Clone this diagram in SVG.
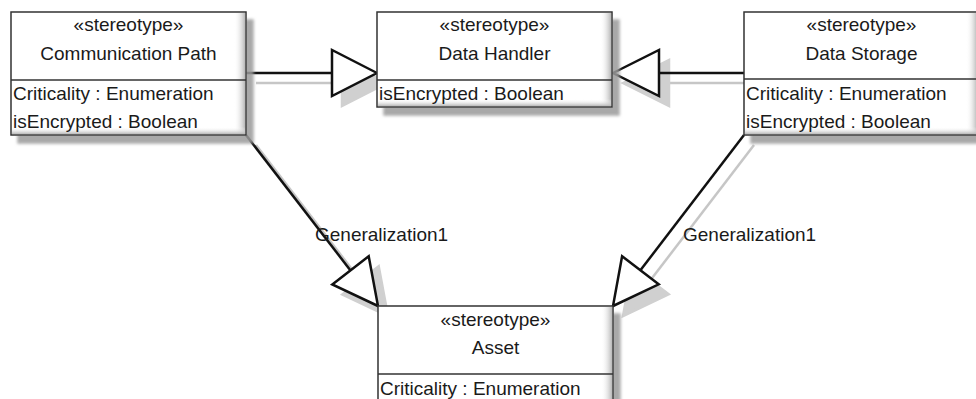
<svg xmlns="http://www.w3.org/2000/svg" width="976" height="399" viewBox="0 0 976 399">
<defs>
<style>
text{font-family:"Liberation Sans",Arial,sans-serif;font-size:19px;fill:#1a1a1a}
.c{text-anchor:middle}
.box{fill:#fff;stroke:#333;stroke-width:1.5}
.div{stroke:#333;stroke-width:1.5}
.edge{fill:none;stroke:#111;stroke-width:2.5}
.head{fill:#fff;stroke:#111;stroke-width:2.5;stroke-linejoin:miter}
.sedge{fill:none;stroke:#c6c6c6;stroke-width:2.5}
.shead{fill:#d0d0d0;stroke:#d0d0d0;stroke-width:2.5}
.bvr{fill:url(#gr)}
.bvb{fill:url(#gb)}
</style>
<linearGradient id="gr" x1="0" y1="0" x2="1" y2="0"><stop offset="0" stop-color="#fff" stop-opacity="0"/><stop offset="1" stop-color="#b8b8b8"/></linearGradient>
<linearGradient id="gb" x1="0" y1="0" x2="0" y2="1"><stop offset="0" stop-color="#fff" stop-opacity="0"/><stop offset="1" stop-color="#b8b8b8"/></linearGradient>
<filter id="bs" x="-10%" y="-10%" width="130%" height="140%">
<feGaussianBlur in="SourceAlpha" stdDeviation="1.5"/>
<feOffset dx="7" dy="8" result="o"/>
<feFlood flood-color="#9a9a9a" flood-opacity="0.85"/>
<feComposite in2="o" operator="in"/>
<feMerge><feMergeNode/><feMergeNode in="SourceGraphic"/></feMerge>
</filter>
</defs>
<rect width="976" height="399" fill="#fff"/>

<g id="connector-shadows" transform="translate(10,10)">
<line class="sedge" x1="246" y1="73" x2="332" y2="73"/>
<polygon class="shead" points="377,73 332,50 332,96"/>
<line class="sedge" x1="744" y1="73" x2="659" y2="73"/>
<polygon class="shead" points="613,73 659,50 659,96"/>
<line class="sedge" x1="246" y1="135" x2="350.5" y2="270.4"/>
<polygon class="shead" points="378,306 332.3,284.5 368.7,256.3"/>
<line class="sedge" x1="744" y1="135" x2="640.4" y2="270.3"/>
<polygon class="shead" points="613,306 658.7,284.3 622.1,256.3"/>
</g>
<g id="connectors">
<line class="edge" x1="246" y1="73" x2="332" y2="73"/>
<polygon class="head" points="377,73 332,50 332,96"/>
<line class="edge" x1="744" y1="73" x2="659" y2="73"/>
<polygon class="head" points="613,73 659,50 659,96"/>
<line class="edge" x1="246" y1="135" x2="350.5" y2="270.4"/>
<polygon class="head" points="378,306 332.3,284.5 368.7,256.3"/>
<line class="edge" x1="744" y1="135" x2="640.4" y2="270.3"/>
<polygon class="head" points="613,306 658.7,284.3 622.1,256.3"/>
</g>
<g id="labels">
<text x="315" y="241">Generalization1</text>
<text x="683" y="241">Generalization1</text>
</g>

<g id="communication-path">
<rect class="box" x="11" y="12" width="235" height="123" filter="url(#bs)"/>
<rect class="bvr" x="234" y="13" width="11" height="121"/>
<rect class="bvb" x="12" y="127" width="233" height="7"/>
<line class="div" x1="11" y1="80" x2="246" y2="80"/>
<text class="c" x="128.5" y="31">«stereotype»</text>
<text class="c" x="128.5" y="60">Communication Path</text>
<text x="13" y="100">Criticality : Enumeration</text>
<text x="13" y="128">isEncrypted : Boolean</text>
</g>

<g id="data-handler">
<rect class="box" x="377" y="12" width="235" height="95" filter="url(#bs)"/>
<rect class="bvr" x="600" y="13" width="11" height="93"/>
<rect class="bvb" x="378" y="99" width="233" height="7"/>
<line class="div" x1="377" y1="80" x2="612" y2="80"/>
<text class="c" x="494.5" y="31">«stereotype»</text>
<text class="c" x="494.5" y="60">Data Handler</text>
<text x="379" y="100">isEncrypted : Boolean</text>
</g>

<g id="data-storage">
<rect class="box" x="744" y="12" width="235" height="123" filter="url(#bs)"/>
<rect class="bvr" x="966" y="13" width="11" height="121"/>
<rect class="bvb" x="745" y="127" width="233" height="7"/>
<line class="div" x1="744" y1="79" x2="979" y2="79"/>
<text class="c" x="861.5" y="31">«stereotype»</text>
<text class="c" x="861.5" y="60">Data Storage</text>
<text x="746" y="100">Criticality : Enumeration</text>
<text x="746" y="128">isEncrypted : Boolean</text>
</g>

<g id="asset">
<rect class="box" x="378" y="306" width="235" height="123" filter="url(#bs)"/>
<rect class="bvr" x="601" y="307" width="11" height="121"/>
<line class="div" x1="378" y1="374" x2="613" y2="374"/>
<text class="c" x="495.5" y="326">«stereotype»</text>
<text class="c" x="495.5" y="354">Asset</text>
<text x="380" y="395">Criticality : Enumeration</text>
</g>
</svg>
